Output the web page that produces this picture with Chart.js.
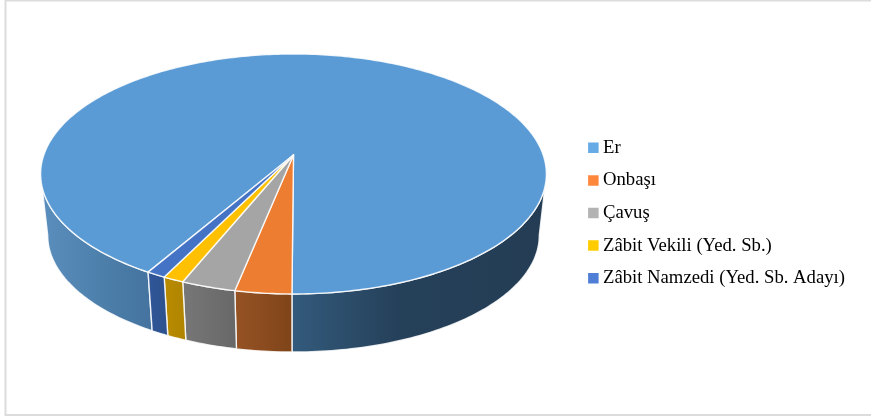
<!DOCTYPE html>
<html><head><meta charset="utf-8">
<style>html,body{margin:0;padding:0;background:#fff}#w{width:871px;height:416px;position:relative}</style>
<script src="https://cdn.jsdelivr.net/npm/chart.js@4"></script>
</head><body><div id="w"><canvas id="c" width="871" height="416"></canvas></div>
<script>
const categories = ["Er","Onbaşı","Çavuş","Zâbit Vekili (Yed. Sb.)","Zâbit Namzedi (Yed. Sb. Adayı)"];
const values = [91.7,3.1,3.0,1.15,1.05];
const topColors = ["#5b9bd5","#ed7d31","#a5a5a5","#ffc000","#4472c4"];
const legendColors = ["#66aae6","#ff873c","#b3b3b3","#ffcc00","#4f7ed6"];
// wall shading: [x, colour] stops
const wallStops = [
 [[41,"#5a8ebc"],[148,"#44749f"],[292,"#335a7c"],[400,"#254059"],[547,"#243d55"]],
 [[235,"#965324"],[292,"#7f4419"]],
 [[183,"#777777"],[235,"#686868"]],
 [[165,"#b88b00"],[183,"#b18500"]],
 [[148,"#30569a"],[165,"#2e528e"]]
];
const P={cx:293.5,y0:155,A:249.7,B:117,k:0.158,wallScale:0.972,wallY0:217};
const rad=d=>d*Math.PI/180;
function pt(a,wall){
  const u=Math.cos(a),v=Math.sin(a),d=1-P.k*v,s=wall?P.wallScale:1,y0=wall?P.wallY0:P.y0;
  return [P.cx+s*P.A*u/d, y0+s*P.B*v/d];
}
function arcPts(a,b,wall){
  const n=Math.max(2,Math.ceil((b-a)/rad(1))),r=[];
  for(let i=0;i<=n;i++)r.push(pt(a+(b-a)*i/n,wall));
  return r;
}
const projected={
  id:'projected',
  beforeDraw(chart){
    const c=chart.ctx;c.save();c.strokeStyle='#dcdcdc';c.lineWidth=2;
    c.beginPath();c.moveTo(871,0.5);c.lineTo(5.5,0.5);c.lineTo(5.5,415);c.lineTo(871,415);c.stroke();c.restore();
  },
  beforeDatasetsDraw(chart){
    const c=chart.ctx,arcs=chart.getDatasetMeta(0).data;
    const visTop=[rad(15),rad(165)],visBot=[rad(9),rad(171)];
    c.save();c.lineJoin='round';
    arcs.forEach((el,i)=>{
      const s=el.startAngle,e=el.endAngle;
      for(const off of [0,2*Math.PI]){
        const a=Math.max(s,visTop[0]+off),b=Math.min(e,visTop[1]+off);
        if(b<=a)continue;
        const a2=Math.max(s,visBot[0]+off),b2=Math.min(e,visBot[1]+off);
        const top=arcPts(a,b,false),bot=arcPts(a2,b2,true).reverse();
        c.beginPath();
        [...top,...bot].forEach((p,j)=>j?c.lineTo(p[0],p[1]):c.moveTo(p[0],p[1]));
        c.closePath();
        const st=wallStops[i],x0=st[0][0],x1=st[st.length-1][0],g=c.createLinearGradient(x0,0,x1,0);
        st.forEach(q=>g.addColorStop((q[0]-x0)/(x1-x0),q[1]));
        c.fillStyle=g;c.fill();
        c.strokeStyle='rgba(255,255,255,0.85)';c.lineWidth=1.4;c.stroke();
      }
    });
    arcs.forEach((el,i)=>{
      c.beginPath();c.moveTo(P.cx,P.y0);
      arcPts(el.startAngle,el.endAngle,false).forEach(p=>c.lineTo(p[0],p[1]));
      c.closePath();c.fillStyle=topColors[i];c.fill();
      c.strokeStyle='rgba(255,255,255,0.85)';c.lineWidth=1.4;c.stroke();
    });
    c.restore();
    return false;
  }
};
new Chart(document.getElementById('c'),{
  type:'pie',
  data:{labels:categories,datasets:[{data:values,backgroundColor:topColors}]},
  plugins:[projected],
  options:{
    responsive:false,animation:false,
    rotation:210.18,
    layout:{padding:{top:10,right:16,bottom:0,left:0}},
    plugins:{
      tooltip:{enabled:false},
      legend:{position:'right',align:'center',
        labels:{font:{family:'"Liberation Serif"',size:18.7},color:'#000',
          usePointStyle:true,pointStyle:'rect',boxWidth:0.5,boxHeight:10.5,padding:13.9,
          generateLabels(chart){
            return Chart.overrides.pie.plugins.legend.labels.generateLabels(chart).map((l,i)=>({...l,fillStyle:legendColors[i],strokeStyle:legendColors[i],lineWidth:0}));
          }}}
    }
  }
});
</script></body></html>
